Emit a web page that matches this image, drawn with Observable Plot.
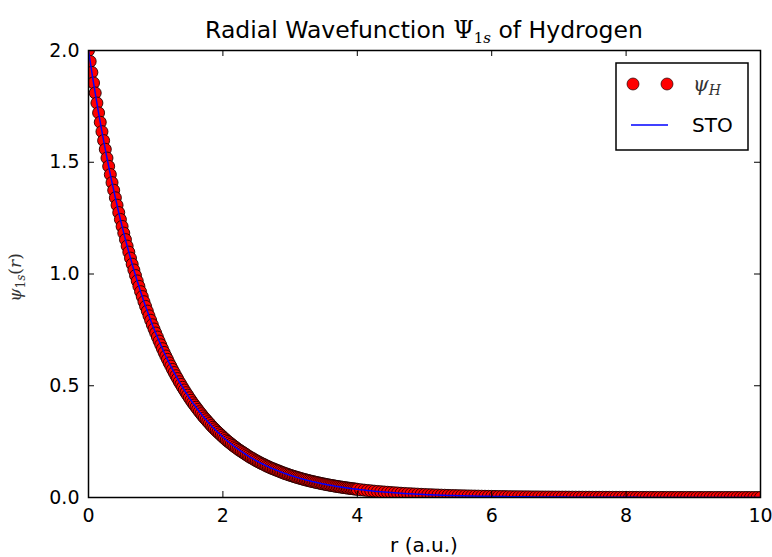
<!DOCTYPE html>
<html>
<head>
<meta charset="utf-8">
<script src="https://cdn.jsdelivr.net/npm/d3@7"></script>
<script src="https://cdn.jsdelivr.net/npm/@observablehq/plot@0.6"></script>
<style>
  html, body { margin: 0; padding: 0; background: white; }
</style>
</head>
<body>
<div id="chart"></div>
<script>
// Sample grid r (a.u.) and values
const rFine = [0,0.025,0.05,0.075,0.1,0.125,0.15,0.175,0.2,0.225,0.25,0.275,0.3,0.325,0.35,0.375,0.4,0.425,0.45,0.475,
  0.5,0.525,0.55,0.575,0.6,0.625,0.65,0.675,0.7,0.725,0.75,0.775,0.8,0.825,0.85,0.875,0.9,0.925,0.95,0.975,
  1,1.025,1.05,1.075,1.1,1.125,1.15,1.175,1.2,1.225,1.25,1.275,1.3,1.325,1.35,1.375,1.4,1.425,1.45,1.475,
  1.5,1.525,1.55,1.575,1.6,1.625,1.65,1.675,1.7,1.725,1.75,1.775,1.8,1.825,1.85,1.875,1.9,1.925,1.95,1.975,
  2,2.025,2.05,2.075,2.1,2.125,2.15,2.175,2.2,2.225,2.25,2.275,2.3,2.325,2.35,2.375,2.4,2.425,2.45,2.475,
  2.5,2.525,2.55,2.575,2.6,2.625,2.65,2.675,2.7,2.725,2.75,2.775,2.8,2.825,2.85,2.875,2.9,2.925,2.95,2.975,
  3,3.025,3.05,3.075,3.1,3.125,3.15,3.175,3.2,3.225,3.25,3.275,3.3,3.325,3.35,3.375,3.4,3.425,3.45,3.475,
  3.5,3.525,3.55,3.575,3.6,3.625,3.65,3.675,3.7,3.725,3.75,3.775,3.8,3.825,3.85,3.875,3.9,3.925,3.95,3.975,4];
const psiFine = [2.000,1.951,1.902,1.855,1.810,1.765,1.721,1.679,1.637,1.597,1.558,1.519,1.482,1.445,1.409,1.375,
  1.341,1.308,1.275,1.244,1.213,1.183,1.154,1.125,1.098,1.071,1.044,1.018,0.993,0.969,0.945,0.921,
  0.899,0.876,0.855,0.834,0.813,0.793,0.773,0.754,0.736,0.718,0.700,0.683,0.666,0.649,0.633,0.618,
  0.602,0.588,0.573,0.559,0.545,0.532,0.518,0.506,0.493,0.481,0.469,0.458,0.446,0.435,0.424,0.414,
  0.404,0.394,0.384,0.375,0.365,0.356,0.348,0.339,0.331,0.322,0.314,0.307,0.299,0.292,0.285,0.278,
  0.271,0.264,0.257,0.251,0.245,0.239,0.233,0.227,0.222,0.216,0.211,0.206,0.201,0.196,0.191,0.186,
  0.181,0.177,0.173,0.168,0.164,0.160,0.156,0.152,0.149,0.145,0.141,0.138,0.134,0.131,0.128,0.125,
  0.122,0.119,0.116,0.113,0.110,0.107,0.105,0.102,0.0996,0.0971,0.0947,0.0924,0.0901,0.0879,0.0857,0.0836,
  0.0815,0.0795,0.0775,0.0756,0.0738,0.0719,0.0702,0.0684,0.0667,0.0651,0.0635,0.0619,0.0604,0.0589,0.0574,0.0560,
  0.0546,0.0533,0.0520,0.0507,0.0494,0.0482,0.0470,0.0459,0.0447,0.0436,0.0426,0.0415,0.0405,0.0395,0.0385,0.0376,
  0.0366];
const rTail = [4.05,4.1,4.15,4.2,4.25,4.3,4.35,4.4,4.45,4.5,4.55,4.6,4.65,4.7,4.75,4.8,4.85,4.9,4.95,5.0,
  5.05,5.1,5.15,5.2,5.25,5.3,5.35,5.4,5.45,5.5,5.55,5.6,5.65,5.7,5.75,5.8,5.85,5.9,5.95,6.0,
  6.05,6.1,6.15,6.2,6.25,6.3,6.35,6.4,6.45,6.5,6.55,6.6,6.65,6.7,6.75,6.8,6.85,6.9,6.95,7.0,
  7.05,7.1,7.15,7.2,7.25,7.3,7.35,7.4,7.45,7.5,7.55,7.6,7.65,7.7,7.75,7.8,7.85,7.9,7.95,8.0,
  8.05,8.1,8.15,8.2,8.25,8.3,8.35,8.4,8.45,8.5,8.55,8.6,8.65,8.7,8.75,8.8,8.85,8.9,8.95,9.0,
  9.05,9.1,9.15,9.2,9.25,9.3,9.35,9.4,9.45,9.5,9.55,9.6,9.65,9.7,9.75,9.8,9.85,9.9,9.95,10.0];
const psiTail = [0.0348,0.0331,0.0315,0.0300,0.0285,0.0271,0.0258,0.0246,0.0234,0.0222,0.0211,0.0201,0.0191,0.0182,0.0173,0.0165,0.0157,0.0149,0.0142,0.0135,
  0.0128,0.0122,0.0116,0.0110,0.0105,0.0100,0.0095,0.0090,0.0086,0.0082,0.0078,0.0074,0.0070,0.0067,0.0064,0.0061,0.0058,0.0055,0.0052,0.0050,
  0.0047,0.0045,0.0043,0.0041,0.0039,0.0037,0.0035,0.0033,0.0032,0.0030,0.0029,0.0027,0.0026,0.0025,0.0023,0.0022,0.0021,0.0020,0.0019,0.0018,
  0.0017,0.0017,0.0016,0.0015,0.0014,0.0014,0.0013,0.0012,0.0012,0.0011,0.0011,0.0010,0.0010,0.0009,0.0009,0.0008,0.0008,0.0007,0.0007,0.0007,
  0.0006,0.0006,0.0006,0.0005,0.0005,0.0005,0.0005,0.0004,0.0004,0.0004,0.0004,0.0004,0.0004,0.0003,0.0003,0.0003,0.0003,0.0003,0.0003,0.0002,
  0.0002,0.0002,0.0002,0.0002,0.0002,0.0002,0.0002,0.0002,0.0002,0.0001,0.0001,0.0001,0.0001,0.0001,0.0001,0.0001,0.0001,0.0001,0.0001,0.0001];

const xTicks = [0, 2, 4, 6, 8, 10];
const yTicks = [0, 0.5, 1.0, 1.5, 2.0];
const seriesNames = ["ψ", "STO"];

const data = rFine.map((r, i) => ({r, psi: psiFine[i]}))
  .concat(rTail.map((r, i) => ({r, psi: psiTail[i]})));

const W = 772, H = 557;
const mL = 88, mR = 12, mT = 50, mB = 60;
const fw = W - mL - mR, fh = H - mT - mB;
const tick = 6;

const svg = Plot.plot({
  width: W, height: H,
  marginLeft: mL, marginRight: mR, marginTop: mT, marginBottom: mB,
  style: {fontFamily: "DejaVu Sans", fontSize: "19px", background: "white", color: "black", overflow: "visible"},
  x: {domain: [0, 10], ticks: xTicks, tickSize: 0, tickPadding: 11, tickFormat: d => String(d), label: null},
  y: {domain: [0, 2], ticks: yTicks, tickSize: 0, tickPadding: 9, tickFormat: d => d.toFixed(1), label: null},
  marks: [
    Plot.dot(data, {x: "r", y: "psi", r: 6, fill: "red", stroke: "#200000", strokeWidth: 0.9, clip: true}),
    Plot.line(data, {x: "r", y: "psi", stroke: "blue", strokeWidth: 1.5, clip: true}),
    Plot.tickX(xTicks, {x: d => d, stroke: "black", insetTop: fh - tick}),
    Plot.tickX(xTicks, {x: d => d, stroke: "black", insetBottom: fh - tick}),
    Plot.tickY(yTicks, {y: d => d, stroke: "black", insetRight: fw - tick}),
    Plot.tickY(yTicks, {y: d => d, stroke: "black", insetLeft: fw - tick}),
    Plot.frame({stroke: "black", strokeWidth: 1.5})
  ]
});

const s = d3.select(svg);

// Title
const title = s.append("text")
  .attr("x", mL + fw / 2).attr("y", 38)
  .attr("text-anchor", "middle")
  .attr("font-family", "DejaVu Sans").attr("font-size", 23.5).attr("fill", "black");
title.append("tspan").text("Radial Wavefunction ");
title.append("tspan").attr("font-family", "DejaVu Serif").text("Ψ");
title.append("tspan").attr("font-family", "DejaVu Serif").attr("font-size", 15).attr("dy", 5).text("1");
title.append("tspan").attr("font-family", "DejaVu Serif").attr("font-style", "italic").attr("font-size", 15).text("s");
title.append("tspan").attr("dy", -5).text(" of Hydrogen");

// X label
s.append("text")
  .attr("x", mL + fw / 2).attr("y", 552)
  .attr("text-anchor", "middle")
  .attr("font-family", "DejaVu Sans").attr("font-size", 20).attr("fill", "black")
  .text("r (a.u.)");

// Y label
const yl = s.append("text")
  .attr("transform", `translate(21, ${mT + fh / 2 + 4}) rotate(-90)`)
  .attr("text-anchor", "middle")
  .attr("font-family", "DejaVu Serif").attr("font-size", 17).attr("fill", "#333");
yl.append("tspan").attr("font-style", "italic").text("ψ");
yl.append("tspan").attr("font-size", 12).attr("dy", 4).text("1");
yl.append("tspan").attr("font-size", 12).attr("font-style", "italic").text("s");
yl.append("tspan").attr("dy", -4).text("(");
yl.append("tspan").attr("font-style", "italic").text("r");
yl.append("tspan").text(")");

// Legend
const lg = s.append("g").attr("text-anchor", "start");
lg.append("rect").attr("x", 616).attr("y", 63).attr("width", 132).attr("height", 87)
  .attr("fill", "white").attr("stroke", "black").attr("stroke-width", 1.5);
[633, 667].forEach(cx => lg.append("circle").attr("cx", cx).attr("cy", 84).attr("r", 6)
  .attr("fill", "red").attr("stroke", "#200000").attr("stroke-width", 0.7));
const l1 = lg.append("text").attr("x", 693).attr("y", 91).attr("text-anchor", "start")
  .attr("font-family", "DejaVu Serif").attr("font-size", 20).attr("fill", "#333");
l1.append("tspan").attr("font-style", "italic").text(seriesNames[0]);
l1.append("tspan").attr("font-style", "italic").attr("font-size", 14).attr("dy", 4).text("H");
lg.append("line").attr("x1", 631).attr("x2", 668).attr("y1", 125).attr("y2", 125)
  .attr("stroke", "blue").attr("stroke-width", 1.5);
lg.append("text").attr("x", 692).attr("y", 132).attr("text-anchor", "start")
  .attr("font-family", "DejaVu Sans").attr("font-size", 20).attr("fill", "black")
  .text(seriesNames[1]);

document.getElementById("chart").appendChild(svg);
</script>
</body>
</html>
